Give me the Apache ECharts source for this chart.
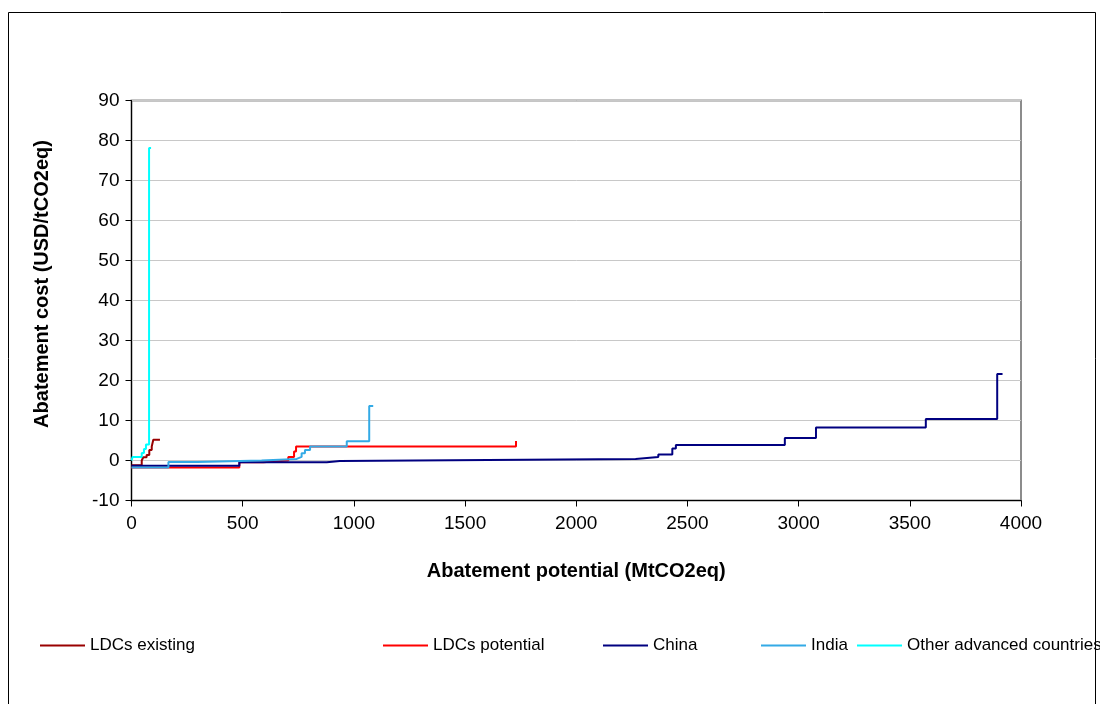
<!DOCTYPE html>
<html>
<head>
<meta charset="utf-8">
<title>Abatement cost curves</title>
<script src="https://cdn.jsdelivr.net/npm/echarts@6/dist/echarts.min.js"></script>
<style>
    html, body { margin: 0; padding: 0; background: #fff; }
    #chart { width: 1100px; height: 704px; }
</style>
</head>
<body>
<div id="chart"></div>
<script>
// cumulative potential (MtCO2eq) where each step starts, and its cost (USD/tCO2eq)
const ldcExistingX = [0, 46, 53, 68, 80, 91, 98, 128];
const ldcExistingY = [-1.2, 0, 0.8, 1.4, 2.6, 3.5, 5.2, 5.2];

const ldcPotentialX = [0, 485, 593, 705, 731, 740, 1729];
const ldcPotentialY = [-1.75, -0.45, 0, 0.85, 2.25, 3.5, 4.9];

const chinaX = [0, 485, 878, 937, 2267, 2369, 2432, 2448, 2938, 3078, 3572, 3893, 3917];
const chinaY = [-1.3, -0.45, -0.1, 0.4, 0.9, 1.5, 3.0, 3.9, 5.65, 8.25, 10.4, 21.6, 21.6];

const indiaX = [0, 166, 296, 585, 743, 765, 780, 803, 968, 1069, 1087];
const indiaY = [-1.75, -0.4, 0, 0.4, 0.9, 1.8, 2.6, 3.5, 4.8, 13.6, 13.6];

const otherX = [0, 5, 46, 56, 65, 79, 88];
const otherY = [0, 0.9, 1.9, 2.9, 4.0, 78.1, 78.1];

const seriesNames = ["LDCs existing", "LDCs potential", "China", "India", "Other advanced countries"];
const seriesColors = ["#990000", "#FF0000", "#000080", "#33AAE6", "#00FFFF"];
const legendLeft = [35, 378, 598, 756, 852];

const xTicks = { min: 0, max: 4000, interval: 500 };
const yTicks = { min: -10, max: 90, interval: 10 };

const font = "'Liberation Sans', Arial, sans-serif";

const pairs = (xs, ys) => xs.map((x, i) => [x, ys[i]]);
const seriesData = [
    pairs(ldcExistingX, ldcExistingY),
    pairs(ldcPotentialX, ldcPotentialY),
    pairs(chinaX, chinaY),
    pairs(indiaX, indiaY),
    pairs(otherX, otherY),
];

const myChart = echarts.init(document.getElementById("chart"), null, { renderer: "canvas" });

const option = {
    animation: false,
    backgroundColor: "#fff",
    textStyle: { fontFamily: font },
    grid: {
        left: 131.5,
        right: 79,
        top: 100.5,
        bottom: 203.5,
        show: true,
        borderColor: "#8c8c8c",
        borderWidth: 2,
    },
    legend: seriesNames.map((name, i) => ({
        data: [name],
        left: legendLeft[i],
        top: 632,
        icon: "rect",
        itemWidth: 45,
        itemHeight: 2,
        itemGap: 4,
        textStyle: { fontSize: 17, color: "#000", fontFamily: font },
    })),
    xAxis: {
        type: "value",
        ...xTicks,
        name: "Abatement potential (MtCO2eq)",
        nameLocation: "middle",
        nameGap: 61,
        nameTextStyle: { fontSize: 20, fontWeight: "bold", color: "#000" },
        axisLine: { onZero: false, lineStyle: { color: "#000", width: 1 } },
        axisTick: { show: true, length: 6, lineStyle: { color: "#000" } },
        axisLabel: { fontSize: 19, color: "#000", margin: 14, formatter: v => String(v) },
        splitLine: { show: false },
    },
    yAxis: {
        type: "value",
        ...yTicks,
        axisLine: { show: true, lineStyle: { color: "#000", width: 1 } },
        axisTick: { show: true, length: 6, lineStyle: { color: "#000" } },
        axisLabel: { fontSize: 19, color: "#000", margin: 12 },
        splitLine: { lineStyle: { color: "#c8c8c8", width: 1 } },
    },
    graphic: [
        {
            type: "rect",
            shape: { x: 8.5, y: 12.5, width: 1087, height: 700 },
            style: { fill: "none", stroke: "#000", lineWidth: 1 },
            silent: true,
        },
        {
            type: "text",
            x: 42,
            y: 284,
            rotation: Math.PI / 2,
            style: {
                text: "Abatement cost (USD/tCO2eq)",
                fontSize: 20,
                fontWeight: "bold",
                fontFamily: font,
                fill: "#000",
                align: "center",
                verticalAlign: "middle",
            },
        },
    ],
    series: seriesNames.map((name, i) => ({
        name,
        type: "line",
        step: "end",
        symbol: "none",
        data: seriesData[i],
        lineStyle: { color: seriesColors[i], width: 2 },
        itemStyle: { color: seriesColors[i] },
    })),
};

myChart.setOption(option);
</script>
</body>
</html>
